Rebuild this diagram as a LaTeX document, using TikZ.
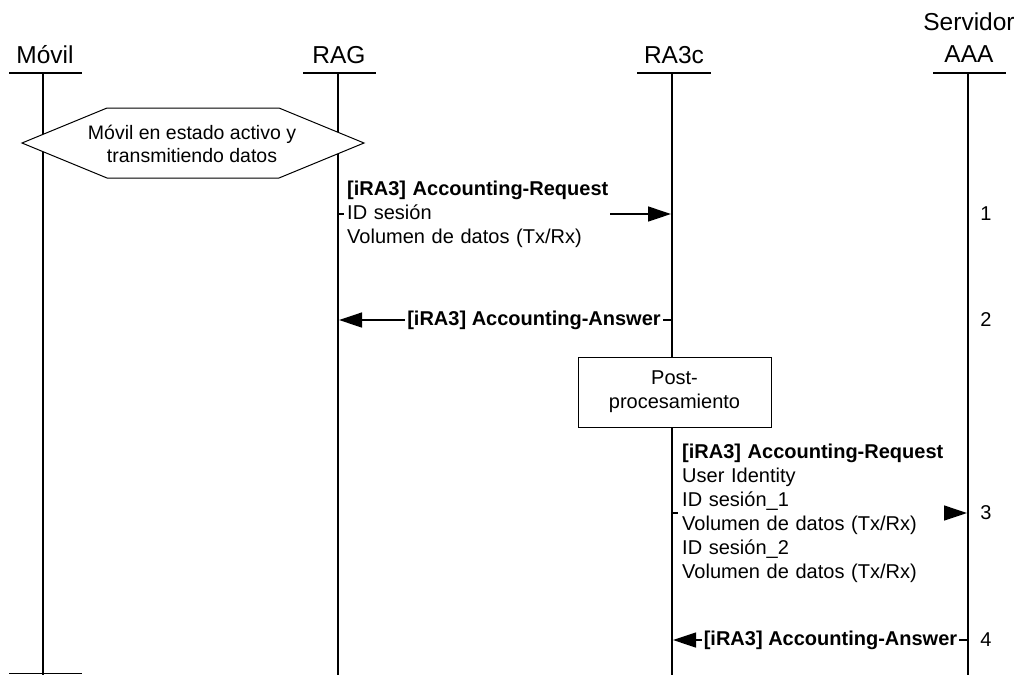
\documentclass[tikz,border=0pt]{standalone}
\usepackage{fontspec}
\setmainfont{Liberation Sans}
\usetikzlibrary{arrows.meta}
\begin{document}
\begin{tikzpicture}[x=1pt,y=-1pt,
  every node/.style={font=\fontsize{20}{24}\selectfont},
  head/.style={font=\fontsize{24.5}{31}\selectfont, anchor=base, inner sep=0pt},
  life/.style={line width=1.8pt},
  bar/.style={line width=1.3pt},
  thin/.style={line width=1pt},
  msg/.style={line width=1.3pt, -{Triangle[length=23pt,width=15pt]}},
  lbl/.style={fill=white, inner ysep=1pt, align=left},
  blbl/.style={fill=white, inner ysep=1pt, inner xsep=2pt, font=\fontsize{20}{24}\selectfont\bfseries},
  num/.style={inner sep=0pt}
]
\useasboundingbox (0,0) rectangle (1020,675);

% headers
\node[head] (hM) at (45,63) {Móvil};
\node[head] (hR) at (339,63) {RAG};
\node[head] (hC) at (674,63) {RA3c};
\node[head] (hS1) at (969,30) {Servidor};
\node[head] (hS2) at (969,62) {AAA};

% lifeline anchors
\coordinate (mT) at (43,73);  \coordinate (mB) at (43,675);
\coordinate (rT) at (338,73); \coordinate (rB) at (338,675);
\coordinate (cT) at (672,73); \coordinate (cB) at (672,675);
\coordinate (sT) at (968,73); \coordinate (sB) at (968,675);

% header bars
\draw[bar] (9,73) -- (82,73);
\draw[bar] (303,73) -- (376,73);
\draw[bar] (637,73) -- (711,73);
\draw[bar] (933,73) -- (1006,73);
% bottom bar of Movil
\draw[bar] (9,673.5) -- (82,673.5);

% lifelines
\draw[life] (mT) -- (mB);
\draw[life] (rT) -- (rB);
\draw[life] (cT) -- (cB);
\draw[life] (sT) -- (sB);

% hexagon state
\draw[thin, fill=white] (22,143) -- (107,108) -- (279,108) -- (364,143) -- (279,178) -- (107,178) -- cycle;
\node[align=center, font=\fontsize{19.5}{23}\selectfont] (state) at (192,144) {Móvil en estado activo y\\transmitiendo datos};

% message 1
\coordinate (m1s) at (338,214); \coordinate (m1e) at (671,214);
\draw[msg] (m1s) -- (m1e);
\node[lbl, anchor=west, text width=260pt, inner xsep=3pt] (l1) at (344,214)
  {\mbox{\textbf{[iRA3] Accounting-Request}}\\ID sesión\\Volumen de datos (Tx/Rx)};
\node[num] (n1) at (986,214) {1};

% message 2
\coordinate (m2s) at (671,320); \coordinate (m2e) at (339,320);
\draw[msg] (m2s) -- (m2e);
\node[blbl] (l2) at (534,320) {[iRA3] Accounting-Answer};
\node[num] (n2) at (986,320) {2};

% post-processing
\node[draw, thin, fill=white, minimum width=193pt, minimum height=70pt, align=center] (pp) at (674.5,392) {Post-\\procesamiento};

% message 3
\coordinate (m3s) at (672,513); \coordinate (m3e) at (967,513);
\draw[msg] (m3s) -- (m3e);
\node[lbl, anchor=west, text width=258pt, inner xsep=4pt] (l3) at (678,513)
  {\mbox{\textbf{[iRA3] Accounting-Request}}\\User Identity\\ID sesión\_1\\Volumen de datos (Tx/Rx)\\ID sesión\_2\\Volumen de datos (Tx/Rx)};
\node[num] (n3) at (986,513) {3};

% message 4
\coordinate (m4s) at (967,640); \coordinate (m4e) at (673,640);
\draw[msg] (m4s) -- (m4e);
\node[blbl] (l4) at (830.5,640) {[iRA3] Accounting-Answer};
\node[num] (n4) at (986,640) {4};
\end{tikzpicture}
\end{document}
